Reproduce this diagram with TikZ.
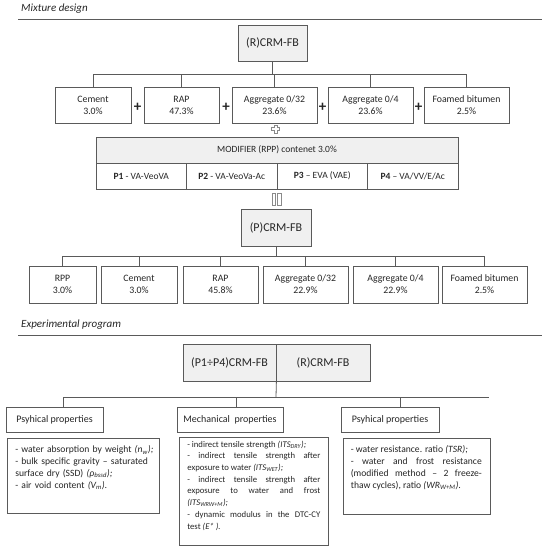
\documentclass[tikz,border=0pt]{standalone}
\usepackage{fontspec}
\setmainfont{Carlito}
\definecolor{lc}{HTML}{5A5A5A}
\definecolor{gf}{HTML}{F0F0F0}
\definecolor{tc}{HTML}{262626}
\definecolor{sc}{HTML}{8A8A8A}
\begin{document}
\begin{tikzpicture}[x=1pt,y=-1pt,
  box/.style={draw=lc, line width=0.8pt, fill=white, inner sep=0pt, align=center, text=tc, font=\fontsize{9.8}{12}\selectfont},
  gbox/.style={box, fill=gf},
  modbox/.style={box, font=\fontsize{9.5}{12}\selectfont},
  bigbox/.style={gbox, font=\fontsize{12}{13}\selectfont},
  hbox/.style={box, font=\fontsize{10}{12}\selectfont},
  ln/.style={draw=lc, line width=0.8pt},
  sep/.style={draw=lc, line width=0.9pt},
  ttl/.style={anchor=west, inner sep=0pt, text=tc, font=\fontsize{11}{12}\selectfont\itshape},
  pl/.style={inner sep=0pt, text=tc, font=\fontsize{15}{15}\selectfont\bfseries},
  detail/.style={anchor=north west, inner sep=0pt, text=tc, font=\fontsize{9.6}{11.8}\selectfont},
  detailsm/.style={detail, font=\fontsize{8.7}{11.7}\selectfont},
  symb/.style={draw=sc, line width=0.6pt}
]
\useasboundingbox (0,0) rectangle (549,550);

% ---------- Mixture design ----------
\node[ttl] (mixt) at (21,9) {Mixture design};
\draw[sep] (18,19.5) -- (542,19.5);

\node[bigbox, minimum width=69pt, minimum height=36pt] (top) at (272.5,43) {(R)CRM-FB};

\node[box, minimum width=76pt, minimum height=36pt] (a1) at (93,105) {Cement\\3.0\%};
\node[box, minimum width=75pt, minimum height=36pt] (a2) at (181.5,105) {RAP\\47.3\%};
\node[box, minimum width=85pt, minimum height=36pt] (a3) at (274.5,105) {Aggregate 0/32\\23.6\%};
\node[box, minimum width=85pt, minimum height=36pt] (a4) at (370.5,105) {Aggregate 0/4\\23.6\%};
\node[box, minimum width=85pt, minimum height=36pt] (a5) at (466.5,105) {Foamed bitumen\\2.5\%};

\coordinate (ba) at (272.5,74);
\draw[ln] (top.south) -- (ba);
\draw[ln] (a1.north |- ba) -- (a5.north |- ba);
\foreach \n in {a1,a2,a3,a4,a5} \draw[ln] (\n.north |- ba) -- (\n.north);

\node[pl] (p1) at (137.5,107) {+};
\node[pl] (p2) at (226,107) {+};
\node[pl] (p3) at (322.5,107) {+};
\node[pl] (p4) at (418.5,107) {+};

% outlined plus
\begin{scope}[shift={(275.5,129)}]
\draw[symb] (-1.4,-4.2) -- (1.4,-4.2) -- (1.4,-1.4) -- (4.2,-1.4) -- (4.2,1.4) -- (1.4,1.4) -- (1.4,4.2) -- (-1.4,4.2) -- (-1.4,1.4) -- (-4.2,1.4) -- (-4.2,-1.4) -- (-1.4,-1.4) -- cycle;
\end{scope}

% modifier table
\node[gbox, modbox, fill=gf, minimum width=362pt, minimum height=26pt] (mod) at (277,150) {MODIFIER (RPP) contenet 3.0\%};
\node[modbox, minimum width=90.5pt, minimum height=26pt] (m1) at (141.25,176) {\textbf{P1} - VA-VeoVA};
\node[modbox, minimum width=90.5pt, minimum height=26pt] (m2) at (231.75,176) {\textbf{P2} - VA-VeoVa-Ac};
\node[modbox, minimum width=90.5pt, minimum height=26pt] (m3) at (322.25,176) {\textbf{P3} – EVA (VAE)};
\node[modbox, minimum width=90.5pt, minimum height=26pt] (m4) at (412.75,176) {\textbf{P4} – VA/VV/E/Ac};

% outlined equals (rotated)
\draw[symb] (272.2,193.5) rectangle (275.6,205.5);
\draw[symb] (277.4,193.5) rectangle (280.8,205.5);

\node[bigbox, minimum width=70pt, minimum height=37pt] (pcrm) at (276,227.5) {(P)CRM-FB};

\node[box, minimum width=67pt, minimum height=37pt] (b1) at (62.5,284.5) {RPP\\3.0\%};
\node[box, minimum width=76pt, minimum height=37pt] (b2) at (139,284.5) {Cement\\3.0\%};
\node[box, minimum width=75pt, minimum height=37pt] (b3) at (220.5,284.5) {RAP\\45.8\%};
\node[box, minimum width=85pt, minimum height=37pt] (b4) at (305.5,284.5) {Aggregate 0/32\\22.9\%};
\node[box, minimum width=85pt, minimum height=37pt] (b5) at (395.5,284.5) {Aggregate 0/4\\22.9\%};
\node[box, minimum width=85pt, minimum height=37pt] (b6) at (484.5,284.5) {Foamed bitumen\\2.5\%};

\coordinate (bb) at (276,256);
\draw[ln] (pcrm.south) -- (bb);
\draw[ln] (b1.north |- bb) -- (b6.north |- bb);
\foreach \n in {b1,b2,b3,b4,b5,b6} \draw[ln] (\n.north |- bb) -- (\n.north);

% ---------- Experimental program ----------
\node[ttl] (expt) at (21,325) {Experimental program};
\draw[sep] (18,335) -- (542,335);

\node[bigbox, minimum width=93pt, minimum height=37pt] (e1) at (229.5,362.5) {(P1÷P4)CRM-FB};
\node[bigbox, minimum width=94pt, minimum height=37pt] (e2) at (323,362.5) {(R)CRM-FB};

\node[hbox, minimum width=97pt, minimum height=25pt] (h1) at (54.5,419.5) {Psyhical properties};
\node[hbox, minimum width=106pt, minimum height=25pt] (h2) at (230,419.5) {Mechanical\ \ properties};
\node[hbox, minimum width=98pt, minimum height=25pt] (h3) at (390,419.5) {Psyhical properties};

\coordinate (be) at (276,397);
\coordinate (t1) at (63,397);
\coordinate (t2) at (236,397);
\coordinate (t3) at (400,397);
\coordinate (tend) at (489,397);
\draw[ln] (e1.south east) -- (be);
\draw[ln] (t1) -- (tend);
\draw[ln] (t1) -- (t1 |- h1.north);
\draw[ln] (t2) -- (t2 |- h2.north);
\draw[ln] (t3) -- (t3 |- h3.north);

\node[box, minimum width=152pt, minimum height=75pt] (d1) at (83,475.5) {};
\node[box, minimum width=149pt, minimum height=108pt] (d2) at (253.5,491) {};
\node[box, minimum width=147pt, minimum height=76pt] (d3) at (416.5,476) {};

\node[detail, text width=143pt, align=left] (x1) at ([xshift=8.5pt,yshift=-8pt]d1.north west)
{- water absorption by weight \textit{(n\textsubscript{w});}\\
- bulk specific gravity – saturated\\
surface dry (SSD) \textit{(ρ\textsubscript{bssd});}\\
- air void content \textit{(V\textsubscript{m}).}};

\node[detailsm, text width=133pt, align=justify] (x2) at ([xshift=8.5pt,yshift=-4pt]d2.north west)
{- indirect tensile strength \textit{(ITS\textsubscript{DRY});}\\
- indirect tensile strength after\linebreak
exposure to water \textit{(ITS\textsubscript{WET});}\\
- indirect tensile strength after\linebreak
exposure to water and frost\linebreak
\textit{(ITS\textsubscript{WRW+M});}\\
- dynamic modulus in the DTC-CY\linebreak
test \textit{(E* ).}};

\node[detail, text width=131pt, align=justify] (x3) at ([xshift=8pt,yshift=-8pt]d3.north west)
{- water resistance. ratio \textit{(TSR);}\\
- water and frost resistance\linebreak
(modified method – 2 freeze-\linebreak
thaw cycles), ratio \textit{(WR\textsubscript{W+M}).}};
\end{tikzpicture}
\end{document}
